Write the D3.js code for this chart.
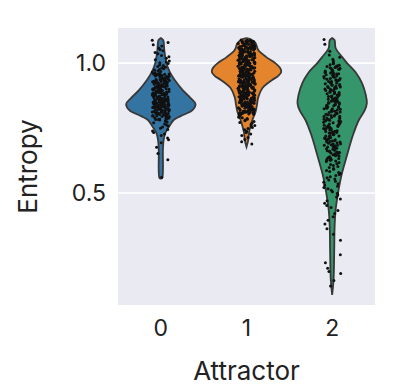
<!DOCTYPE html>
<html>
<head>
<meta charset="utf-8">
<script src="https://cdn.jsdelivr.net/npm/d3@7"></script>
<style>
  body { margin: 0; background: #fff; }
  svg { display: block; font-family: Inter, "Open Sans", sans-serif; }
</style>
</head>
<body>
<div class="chart"></div>
<script>
// categories + ticks
const attractors = ["0", "1", "2"];
const yTicks = [0.5, 1.0];
const yDomain = [0.069, 1.135];

// violin outlines: [entropy, relative density]
const violin0 = [[1.096,0],[1.088,0.07],[1.05,0.10],[1.0,0.16],[0.965,0.26],[0.935,0.40],[0.896,0.63],[0.865,0.86],
  [0.842,1.0],[0.819,0.91],[0.796,0.57],[0.781,0.37],[0.754,0.23],[0.731,0.13],[0.704,0.08],[0.665,0.06],[0.558,0.04],[0.555,0]];
const violin1 = [[1.096,0],[1.092,0.11],[1.077,0.26],[1.05,0.34],[1.023,0.57],[1.0,0.83],[0.981,0.97],[0.965,1.0],
  [0.95,0.91],[0.935,0.74],[0.904,0.46],[0.869,0.34],[0.838,0.30],[0.812,0.26],[0.781,0.17],[0.754,0.11],[0.731,0.07],[0.704,0.05],[0.677,0]];
const violin2 = [[1.096,0],[1.088,0.07],[1.058,0.10],[1.023,0.29],[1.0,0.43],[0.962,0.69],[0.923,0.86],[0.877,0.97],
  [0.846,1.0],[0.819,0.94],[0.781,0.77],[0.723,0.60],[0.646,0.43],[0.569,0.27],[0.5,0.17],[0.435,0.10],[0.369,0.07],
  [0.281,0.06],[0.165,0.04],[0.108,0]];

// strip points (entropy per sample)
const points0 = [1.088,1.079,1.071,1.066,1.058,1.052,1.047,1.041,1.036,1.029,1.024,1.019,1.013,1.008,1.004,1.001,
  0.998,0.993,0.991,0.987,0.984,0.981,0.978,0.975,0.973,0.970,0.968,0.966,0.963,0.961,0.958,0.957,0.955,0.953,0.952,0.951,
  0.949,0.947,0.945,0.942,0.940,0.939,0.936,0.934,0.933,0.930,0.928,0.927,0.925,0.922,0.921,0.919,0.917,0.915,0.914,0.912,
  0.910,0.909,0.907,0.905,0.904,0.902,0.901,0.899,0.897,0.896,0.894,0.893,0.891,0.890,0.888,0.887,0.885,0.884,0.882,0.881,
  0.879,0.878,0.877,0.875,0.874,0.872,0.871,0.870,0.868,0.867,0.865,0.864,0.863,0.861,0.860,0.858,0.857,0.856,0.854,0.853,
  0.852,0.850,0.849,0.848,0.846,0.845,0.844,0.842,0.841,0.840,0.838,0.837,0.836,0.834,0.833,0.832,0.830,0.829,0.828,0.826,
  0.825,0.823,0.822,0.820,0.819,0.817,0.816,0.814,0.812,0.811,0.809,0.807,0.806,0.804,0.802,0.800,0.798,0.796,0.794,0.792,
  0.790,0.788,0.786,0.783,0.781,0.779,0.776,0.773,0.770,0.766,0.762,0.758,0.754,0.749,0.744,0.739,0.733,0.727,0.721,
  0.712,0.705,0.693,0.676,0.652,0.628,0.561,
  0.958,0.954,0.950,0.946,0.943,0.939,0.935,0.932,0.928,0.924,0.921,0.917,0.913,0.910,0.906,0.902,0.899,0.895,0.891,0.888,
  0.884,0.880,0.877,0.873,0.869,0.866,0.862,0.858,0.855,0.851,0.847,0.844,0.840,0.836,0.833,0.829,0.825,0.822,0.818,0.814,
  0.811,0.807,0.803,0.800,0.796,0.792,0.789,0.785,
  0.956,0.952,0.948,0.944,0.941,0.937,0.933,0.930,0.926,0.922,0.919,0.915,0.911,0.908,0.904,0.900,0.897,0.893,0.889,0.886,
  0.882,0.878,0.875,0.871,0.867,0.864,0.860,0.856,0.853,0.849,0.845,0.842,0.838,0.834,0.831,0.827,0.823,0.820,0.816,0.812,
  0.809,0.805,0.801,0.798,0.794,0.790,0.787,0.783];
const points1 = [1.089,1.087,1.086,1.085,1.083,1.082,1.081,1.079,1.078,1.076,1.075,1.074,1.072,1.071,1.070,1.068,1.067,1.065,1.064,1.063,
  1.061,1.060,1.059,1.057,1.056,1.054,1.053,1.052,1.050,1.049,1.048,1.046,1.045,1.043,1.042,1.041,1.039,1.038,1.037,1.035,
  1.034,1.032,1.031,1.030,1.028,1.027,1.026,1.024,1.023,1.021,1.020,1.019,1.017,1.016,1.015,1.013,1.012,1.010,1.009,1.008,
  1.006,1.005,1.004,1.002,1.001,0.999,0.998,0.997,0.995,0.994,0.993,0.991,0.990,0.988,0.987,0.986,0.984,0.983,0.982,0.980,
  0.979,0.977,0.976,0.975,0.973,0.972,0.971,0.969,0.968,0.966,0.965,0.964,0.962,0.961,0.960,0.958,0.957,0.955,0.954,0.953,
  0.951,0.950,0.949,0.947,0.946,0.944,0.943,0.942,0.940,0.939,0.938,0.936,0.935,0.933,0.932,0.931,0.929,0.928,0.927,0.925,
  0.924,0.922,0.921,0.920,0.918,0.917,0.916,0.914,0.913,0.911,0.910,0.909,0.907,0.906,0.905,0.903,0.902,0.900,0.899,0.898,
  0.896,0.895,0.894,0.892,0.891,0.889,0.888,0.887,0.885,0.884,0.883,0.881,0.880,0.878,0.877,0.876,0.874,0.873,0.872,0.870,
  0.869,0.867,0.866,0.865,0.863,0.862,0.861,0.859,0.858,0.856,0.855,0.854,0.852,0.851,0.850,0.848,0.847,0.845,0.844,0.843,
  0.841,0.840,0.839,0.837,0.836,0.834,0.833,0.832,0.830,0.829,0.828,0.826,0.825,0.823,0.822,0.821,0.819,0.818,0.817,0.815,
  0.814,0.812,0.811,0.810,0.808,0.807,0.806,0.804,0.803,0.801,
  0.798,0.795,0.792,0.790,0.787,0.784,0.781,0.778,0.775,0.771,0.768,0.764,0.760,0.757,0.752,0.748,0.743,0.738,0.733,0.727,
  0.721,0.714,0.706,0.697,0.689,
  1.088,1.084,1.080,1.077,1.073,1.069,1.066,1.062,1.058,1.055,1.051,1.047,1.044,1.040,1.036,1.033,1.029,1.025,1.022,1.018,
  1.014,1.011,1.007,1.003,1.000,0.996,0.992,0.989,0.985,0.981,0.978,0.974,0.970,0.967,0.963,0.959,0.956,0.952,0.948,0.945,
  0.941,0.937,0.934,0.930,0.926,0.923,0.919,0.915,0.912,0.908,0.904,0.901,0.897,0.893,0.890,0.886,0.882,0.879,0.875,0.871,
  0.868,0.864,0.860,0.857,0.853,0.849,0.846,0.842,0.838,0.835,0.831,0.827,0.824,0.820,0.816,0.813,0.809,0.805,0.802,
  1.086,1.083,1.079,1.075,1.072,1.068,1.064,1.061,1.057,1.053,1.050,1.046,1.042,1.039,1.035,1.031,1.028,1.024,1.020,1.017,
  1.013,1.009,1.006,1.002,0.998,0.995,0.991,0.987,0.984,0.980,0.976,0.973,0.969,0.965,0.962,0.958,0.954,0.951,0.947,0.943,
  0.940,0.936,0.932,0.929,0.925,0.921,0.918,0.914,0.910,0.907,0.903,0.899,0.896,0.892,0.888,0.885,0.881,0.877,0.874,0.870,
  0.866,0.863,0.859,0.855,0.852,0.848,0.844,0.841,0.837,0.833,0.830,0.826,0.822,0.819,0.815,0.811,0.808,0.804];
const points2 = [1.091,1.072,1.046,1.031,1.022,1.015,1.009,1.004,
  0.999,0.997,0.994,0.992,0.990,0.987,0.985,0.983,0.980,0.978,0.976,0.973,0.971,0.969,0.966,0.964,0.962,0.959,0.957,0.955,
  0.952,0.950,0.948,0.945,0.943,0.941,0.938,0.936,0.934,0.931,0.929,0.927,0.924,0.922,0.920,0.917,0.915,0.913,0.910,0.908,
  0.906,0.903,0.901,0.899,0.896,0.894,0.892,0.889,0.887,0.885,0.882,0.880,0.878,0.875,0.873,0.871,0.868,0.866,0.864,0.861,
  0.859,0.857,0.854,0.852,0.850,0.847,0.845,0.843,0.840,0.838,0.836,0.833,0.831,0.829,0.826,0.824,0.822,0.819,0.817,0.815,
  0.812,0.810,0.808,0.805,0.803,0.801,0.798,0.796,0.794,0.791,0.789,0.787,0.784,0.782,0.780,0.777,0.775,0.773,0.770,0.768,
  0.766,0.763,0.761,0.759,0.756,0.754,0.752,0.749,0.747,0.745,0.742,0.740,0.738,0.735,0.733,0.731,0.728,0.726,0.724,0.721,
  0.719,0.717,0.714,0.712,0.710,0.707,0.705,0.703,0.700,0.698,0.696,0.693,0.691,0.689,0.686,0.684,0.682,0.679,0.677,0.675,
  0.672,0.670,0.668,0.665,0.663,0.661,0.658,0.656,0.654,0.651,0.649,0.647,0.644,0.642,0.640,0.637,0.635,0.633,0.630,0.628,
  0.626,0.623,0.621,
  0.617,0.613,0.610,0.606,0.602,0.598,0.594,0.591,0.587,0.583,0.579,0.575,0.571,0.567,0.563,0.559,0.554,0.550,0.545,0.541,
  0.536,0.531,0.526,0.521,0.516,0.511,0.505,0.499,
  0.492,0.485,0.477,0.470,0.461,0.452,0.444,0.433,0.421,0.409,0.395,0.381,0.362,0.341,0.318,
  0.262,0.232,0.210,0.198,0.190,0.163,0.142,
  0.988,0.982,0.976,0.970,0.964,0.958,0.953,0.947,0.941,0.935,0.929,0.923,0.918,0.912,0.906,0.900,0.894,0.888,0.883,0.877,
  0.871,0.865,0.859,0.853,0.848,0.842,0.836,0.830,0.824,0.818,0.813,0.807,0.801,0.795,0.789,0.783,0.778,0.772,0.766,0.760,
  0.754,0.748,0.743,0.737,0.731,0.725,0.719,0.713,0.708,0.702,0.696,0.690,0.684,0.678,0.673,0.667,0.661,0.655,0.649,0.643,
  0.638,0.632,0.626];

const violins = [violin0, violin1, violin2];
const strips = [points0, points1, points2];
const colors = ["#3474a3", "#e4842d", "#34966a"];

// setup chart
const width = 397;
const height = 388;
const plot = { left: 118, right: 375, top: 28, bottom: 305 };
const font = "Inter, 'Open Sans', sans-serif";

const svg = d3.select(".chart")
  .append("svg")
  .attr("width", width)
  .attr("height", height);

const x = d3.scaleBand().domain(attractors).range([plot.left, plot.right]).padding(0);
const y = d3.scaleLinear().domain(yDomain).range([plot.bottom, plot.top]);
const w = d3.scaleLinear().domain([0, 1]).range([0, x.bandwidth() * 0.405]);

svg.append("rect")
  .attr("x", plot.left)
  .attr("y", plot.top)
  .attr("width", plot.right - plot.left)
  .attr("height", plot.bottom - plot.top)
  .attr("fill", "#eaeaf2");

// grid + y labels
const yAxis = svg.append("g")
  .attr("transform", `translate(${plot.left},0)`)
  .call(d3.axisLeft(y).tickValues(yTicks).tickFormat(d3.format(".1f")).tickSize(0).tickPadding(12))
  .attr("font-family", font)
  .attr("font-size", 23);
yAxis.select(".domain").remove();
yAxis.selectAll("text").attr("fill", "#222");

svg.append("g")
  .selectAll("line")
  .data(yTicks)
  .join("line")
  .attr("x1", plot.left)
  .attr("x2", plot.right)
  .attr("y1", d => y(d))
  .attr("y2", d => y(d))
  .attr("stroke", "#fff")
  .attr("stroke-width", 1.6);

const xAxis = svg.append("g")
  .attr("transform", `translate(0,${plot.bottom})`)
  .call(d3.axisBottom(x).tickSize(0).tickPadding(15))
  .attr("font-family", font)
  .attr("font-size", 23);
xAxis.select(".domain").remove();
xAxis.selectAll("text").attr("fill", "#222");

// violins
violins.forEach((profile, i) => {
  const cx = x(attractors[i]) + x.bandwidth() / 2;
  const area = d3.area()
    .curve(d3.curveCatmullRom)
    .y(d => y(d[0]))
    .x0(d => cx - w(d[1]))
    .x1(d => cx + w(d[1]));
  svg.append("path")
    .attr("d", area(profile))
    .attr("fill", colors[i])
    .attr("stroke", "#383838")
    .attr("stroke-width", 1.8);
});

// jittered strips
const jitter = (i, k) => {
  const s = Math.sin(i * 12.9898 + k * 78.233) * 43758.5453;
  return s - Math.floor(s) - 0.5;
};
strips.forEach((vals, k) => {
  const cx = x(attractors[k]) + x.bandwidth() / 2;
  svg.append("g")
    .selectAll("circle")
    .data(vals)
    .join("circle")
    .attr("cx", (d, i) => cx + jitter(i, k) * x.bandwidth() * 0.2)
    .attr("cy", d => y(d))
    .attr("r", 1.5)
    .attr("fill", "#111");
});

// axis titles
svg.append("text")
  .attr("x", (plot.left + plot.right) / 2)
  .attr("y", 380)
  .attr("text-anchor", "middle")
  .attr("font-family", font)
  .attr("font-size", 26)
  .attr("fill", "#222")
  .text("Attractor");

svg.append("text")
  .attr("transform", `translate(37,${(plot.top + plot.bottom) / 2}) rotate(-90)`)
  .attr("text-anchor", "middle")
  .attr("font-family", font)
  .attr("font-size", 26)
  .attr("fill", "#222")
  .text("Entropy");
</script>
</body>
</html>
